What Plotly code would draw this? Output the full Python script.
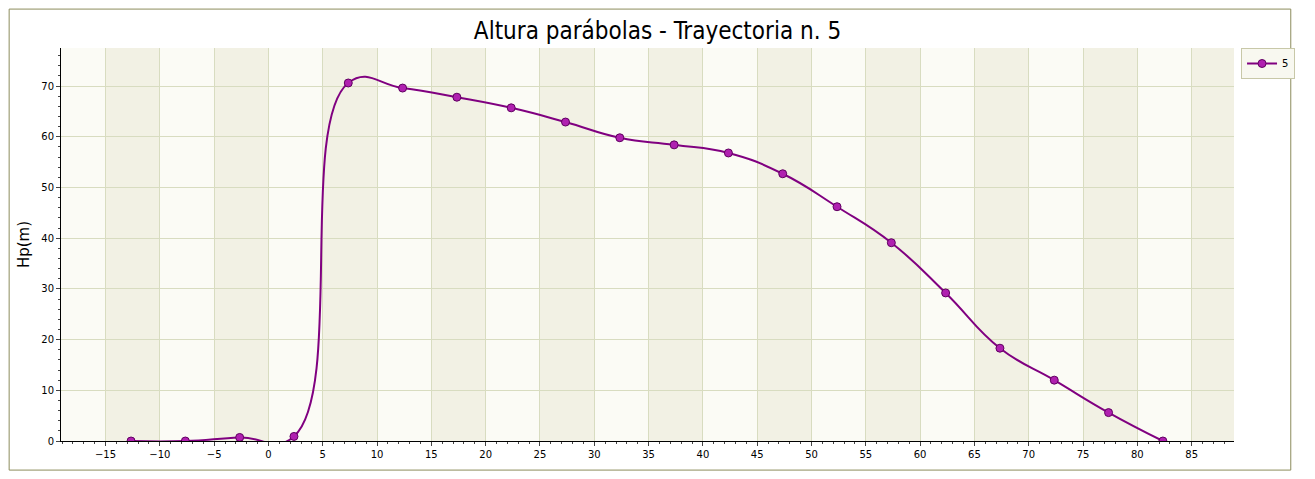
import plotly.graph_objects as go

# Trajectory points
x_vals = [-12.65, -7.65, -2.65, 2.35, 7.35, 12.35, 17.35, 22.35, 27.35, 32.35,
          37.35, 42.35, 47.35, 52.35, 57.35, 62.35, 67.35, 72.35, 77.35, 82.35]
hp_vals = [0.0, 0.0, 0.7, 0.9, 70.6, 69.6, 67.8, 65.7, 62.9, 59.8,
           58.4, 56.8, 52.7, 46.2, 39.1, 29.2, 18.3, 12.0, 5.6, 0.0]
x_ticks = list(range(-15, 90, 5))

fig = go.Figure()
fig.add_trace(go.Scatter(
    x=x_vals, y=hp_vals, name="5", mode="lines+markers",
    line=dict(color="#800080", width=2, shape="spline", smoothing=1.3),
    marker=dict(color="#b020b0", size=8, line=dict(color="#600060", width=1)),
))

# Alternating vertical bands
for start in range(-20, 90, 10):
    fig.add_vrect(x0=start + 5, x1=start + 10, fillcolor="#ecebd8",
                  opacity=0.6, line_width=0, layer="below")

fig.update_layout(
    width=1299, height=463,
    paper_bgcolor="white", plot_bgcolor="#fbfbf5",
    margin=dict(l=53, r=58, t=40, b=30),
    title=dict(text="Altura parábolas - Trayectoria n. 5", x=0.5, y=0.952,
               xanchor="center", yanchor="middle",
               font=dict(family="DejaVu Sans Condensed", size=24, color="black")),
    font=dict(family="DejaVu Sans", size=10, color="black"),
    showlegend=True,
    legend=dict(x=1.006, y=1, xanchor="left", yanchor="top",
                bordercolor="#c8c8a8", borderwidth=1, bgcolor="#f8f8f0",
                font=dict(size=10), itemwidth=30),
    xaxis=dict(range=[-19.1, 88.9], tickvals=x_ticks, showgrid=True,
               gridcolor="#d8dcc0", zeroline=False, showline=True, linecolor="black",
               ticks="outside", ticklen=4, minor=dict(dtick=1, ticks="outside", ticklen=2),
               tickfont=dict(size=10)),
    yaxis=dict(range=[0, 77.5], dtick=10, showgrid=True, gridcolor="#d8dcc0",
               zeroline=False, showline=True, linecolor="black", ticks="outside",
               ticklen=4, minor=dict(dtick=2, ticks="outside", ticklen=2),
               title=dict(text="Hp(m)", font=dict(size=15), standoff=8)),
)
fig.add_shape(type="rect", xref="paper", yref="paper", x0=-0.0442, x1=1.0484,
              y0=-0.074, y1=1.099, line=dict(color="#8c8c5c", width=1))

fig.write_html("out.html")
